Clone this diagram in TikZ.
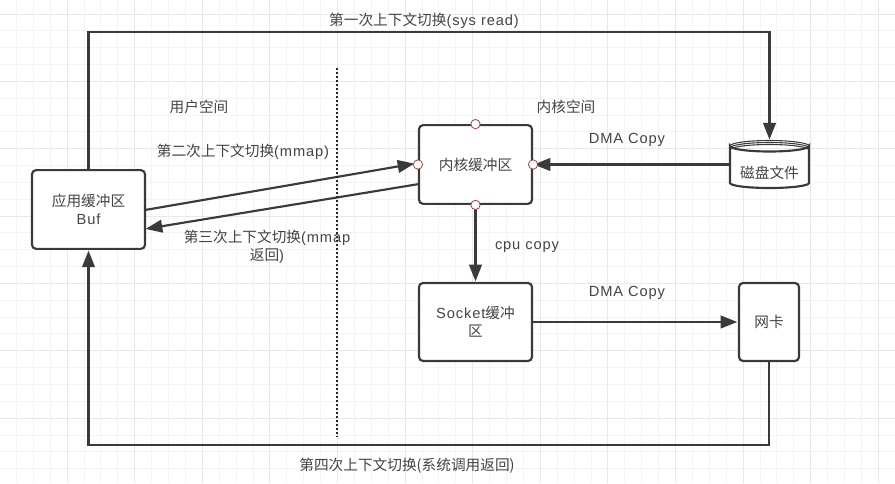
\documentclass[tikz,border=0pt]{standalone}
\usepackage{fontspec}
\usetikzlibrary{arrows.meta}
\setmainfont[LetterSpace=6]{Liberation Sans}
\newfontfamily\cjk{Noto Sans CJK SC}
\definecolor{ink}{HTML}{3A3A3A}
\definecolor{txt}{HTML}{444444}
\definecolor{gridminor}{HTML}{F4F4F4}
\definecolor{gridmajor}{HTML}{E8E8E8}
\definecolor{portred}{HTML}{A04545}
\tikzset{
  x=0.75pt,y=-0.75pt,
  boxnode/.style={draw=ink,line width=1.6pt,rounded corners=3pt,fill=white,align=center,inner sep=0pt,text=txt,font=\fontsize{11pt}{13.5pt}\selectfont},
  label/.style={text=txt,align=center,inner sep=0pt,font=\fontsize{11pt}{13.5pt}\selectfont},
  conn/.style={draw=ink,line width=1.6pt,-{Triangle[length=12.5pt,width=9.5pt]},shorten >=0.5pt},
  port/.style={circle,draw=portred,fill=white,line width=0.6pt,minimum size=7pt,inner sep=0pt},
}
\begin{document}
\begin{tikzpicture}
\useasboundingbox (0,0) rectangle (895,483);
\fill[white] (0,0) rectangle (895,483);
% grid
\foreach \i in {0,...,53} {\draw[gridminor,line width=0.75pt] ({-0.5+16.9*\i},0) -- ({-0.5+16.9*\i},483);}
\foreach \i in {0,...,29} {\draw[gridminor,line width=0.75pt] (0,{14+16.84*\i}) -- (895,{14+16.84*\i});}
\foreach \i in {0,...,13} {\draw[gridmajor,line width=0.75pt] ({-0.5+67.6*\i},0) -- ({-0.5+67.6*\i},483);}
\foreach \i in {0,...,7} {\draw[gridmajor,line width=0.75pt] (0,{14+67.35*\i}) -- (895,{14+67.35*\i});}
% boxes
\node[boxnode,minimum width=84.75pt,minimum height=59pt] (buf) at (88.5,209.5) {{\cjk 应用缓冲区}\\Buf};
\node[boxnode,minimum width=84.75pt,minimum height=59pt] (kern) at (475.5,164.5) {\cjk 内核缓冲区};
\node[boxnode,minimum width=84.75pt,minimum height=58.5pt] (sock) at (475.5,322) {Socket{\cjk 缓冲}\\{\cjk 区}};
\node[boxnode,minimum width=45pt,minimum height=58.5pt] (nic) at (769,322) {\cjk 网卡};
% disk
\node[inner sep=0pt,minimum width=59.25pt,minimum height=36pt] (disk) at (769.5,164.5) {};
\draw[draw=ink,line width=1.6pt,fill=white] (730,146) arc[x radius=39.5,y radius=5.5,start angle=180,end angle=0] -- (809,183) arc[x radius=39.5,y radius=5,start angle=0,end angle=180] -- cycle;
\draw[draw=ink,line width=0.8pt] (730,146) arc[x radius=39.5,y radius=5.5,start angle=180,end angle=360];
\draw[draw=ink,line width=0.8pt] (730,148) arc[x radius=39.5,y radius=5.5,start angle=180,end angle=360];
\draw[draw=ink,line width=0.8pt] (730,150) arc[x radius=39.5,y radius=5.5,start angle=180,end angle=360];
\node[label] at (769.5,173) {\cjk 磁盘文件};
% corner points
\coordinate (tl) at (buf.north |- 0,32);
\coordinate (tr) at (disk.north |- 0,32);
\coordinate (br) at (nic.south |- 0,445);
\coordinate (bl) at (buf.south |- 0,445);
\coordinate (m1s) at (145,210);
\coordinate (m1e) at (415,163.5);
\coordinate (m2s) at (419,184);
\coordinate (m2e) at (145,229);
% connectors
\draw[conn] (buf.north) -- (tl) -- (tr) -- (disk.north);
\draw[conn] (nic.south) -- (br) -- (bl) -- (buf.south);
\draw[conn] (m1s) -- (m1e);
\draw[conn] (m2s) -- (m2e);
\draw[conn] (disk.west) -- (kern.east);
\draw[conn] (kern.south) -- (sock.north);
\draw[conn] (sock.east) -- (nic.west);
% ports
\node[port] (pn) at (kern.north) {};
\node[port] (ps) at (kern.south) {};
\node[port] (pw) at (kern.west) {};
\node[port] (pe) at (kern.east) {};
% divider
\coordinate (d1) at (337,68);
\coordinate (d2) at (337,437);
\draw[black!85,line width=1.5pt,dash pattern=on 1.5pt off 1.5pt] (d1) -- (d2);
% labels
\node[label] (t1) at (424,21) {{\cjk 第一次上下文切换}(sys read)};
\node[label] (t2) at (199,107) {\cjk 用户空间};
\node[label] (t3) at (566,107) {\cjk 内核空间};
\node[label] (t4) at (627,139.5) {DMA Copy};
\node[label] (t5) at (243,152) {{\cjk 第二次上下文切换}(mmap)};
\node[label] (t6) at (267,246.5) {{\cjk 第三次上下文切换}(mmap\\{\cjk 返回})};
\node[label] (t7) at (527,247.5) {cpu copy};
\node[label] (t8) at (627,292.5) {DMA Copy};
\node[label] (t9) at (407,466) {{\cjk 第四次上下文切换(系统调用返回)}};
\end{tikzpicture}
\end{document}
